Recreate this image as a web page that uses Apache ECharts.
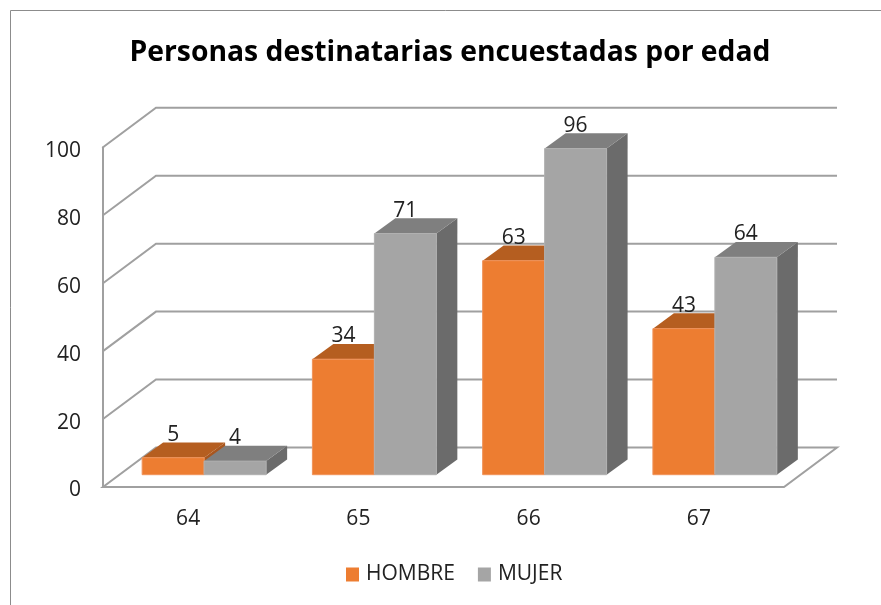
<!DOCTYPE html>
<html>
<head>
<meta charset="utf-8">
<style>
  html, body { margin: 0; padding: 0; background: #fff; }
  #chart { width: 881px; height: 605px; }
</style>
<script src="https://cdn.jsdelivr.net/npm/echarts@6/dist/echarts.min.js"></script>
</head>
<body>
<div id="chart"></div>
<script>
const titleText = 'Personas destinatarias encuestadas por edad'
const categories = ['64', '65', '66', '67']
const hombre = [5, 34, 63, 43]
const mujer = [4, 71, 96, 64]
const yTicks = [0, 20, 40, 60, 80, 100]

const fontFamily = '"Open Sans", "Noto Sans", sans-serif'
const textColor = '#222'
const gridColor = '#a0a0a0'

// fake 3d: how far the back wall sits from the front axis, and the bar box inside that
const wallDx = 53
const wallDy = -39.5
const barOffsetX = 16
const barOffsetY = -12.3
const barDepthX = 21
const barDepthY = -15.3
const barRatio = 0.364

function renderWall(params, api) {
  const cs = params.coordSys
  const y = api.coord([0, api.value(1)])[1]
  const left = cs.x
  const right = cs.x + cs.width
  const style = { stroke: gridColor, lineWidth: 2, fill: 'none' }
  if (api.value(1) === 0) {
    return {
      type: 'polygon',
      shape: { points: [[left, y], [right, y], [right + wallDx, y + wallDy], [left + wallDx, y + wallDy]] },
      style
    }
  }
  return {
    type: 'polyline',
    shape: { points: [[left, y], [left + wallDx, y + wallDy], [right + wallDx, y + wallDy]] },
    style
  }
}

function barRenderer(side, colors) {
  return function (params, api) {
    const cat = api.value(0)
    const top = api.coord([cat, api.value(1)])
    const base = api.coord([cat, 0])
    const w = api.size([1, 0])[0] * barRatio
    const x0 = top[0] + barOffsetX + (side === 0 ? -w : 0)
    const x1 = x0 + w
    const yTop = top[1] + barOffsetY
    const yBase = base[1] + barOffsetY
    const dx = barDepthX
    const dy = barDepthY
    return {
      type: 'group',
      children: [
        {
          type: 'polygon',
          shape: { points: [[x1, yTop], [x1 + dx, yTop + dy], [x1 + dx, yBase + dy], [x1, yBase]] },
          style: { fill: colors.side }
        },
        {
          type: 'polygon',
          shape: { points: [[x0, yTop], [x0 + dx, yTop + dy], [x1 + dx, yTop + dy], [x1, yTop]] },
          style: { fill: colors.top }
        },
        {
          type: 'rect',
          shape: { x: x0, y: yTop, width: w, height: yBase - yTop },
          style: { fill: colors.front, stroke: colors.edge, lineWidth: 1 }
        },
        {
          type: 'text',
          z2: 10,
          style: {
            text: String(api.value(1)),
            x: (x0 + x1) / 2,
            y: yTop + dy + 3,
            align: 'center',
            verticalAlign: 'bottom',
            fill: textColor,
            font: '21px ' + fontFamily
          }
        }
      ]
    }
  }
}

const chart = echarts.init(document.getElementById('chart'), null, { renderer: 'canvas' })
chart.setOption({
  animation: false,
  backgroundColor: '#fff',
  title: {
    text: titleText,
    left: 445,
    top: 34,
    textAlign: 'center',
    textStyle: { fontFamily, fontSize: 28.3, fontWeight: 'bold', color: '#000' }
  },
  legend: {
    data: ['HOMBRE', 'MUJER'],
    left: 341,
    top: 556,
    icon: 'rect',
    itemWidth: 13,
    itemHeight: 14,
    itemGap: 23,
    textStyle: { fontFamily, fontSize: 21, color: textColor, lineHeight: 27, padding: [0, 0, 0, 2] }
  },
  grid: { left: 103, right: 97, top: 147.3, bottom: 118 },
  xAxis: {
    type: 'category',
    data: categories,
    axisTick: { show: false },
    axisLine: { show: false },
    axisLabel: { margin: 22, fontFamily, fontSize: 21, color: textColor }
  },
  yAxis: {
    type: 'value',
    min: 0,
    max: 100,
    interval: 20,
    axisTick: { show: false },
    axisLine: { show: true, lineStyle: { color: gridColor, width: 2 } },
    splitLine: { show: false },
    axisLabel: { margin: 22, fontFamily, fontSize: 21, color: textColor, verticalAlign: 'top', lineHeight: 7 }
  },
  graphic: [
    {
      type: 'polyline',
      silent: true,
      shape: { points: [[10.5, 605], [10.5, 10.5], [881, 10.5]] },
      style: { stroke: '#8c8c8c', lineWidth: 1, fill: 'none' }
    }
  ],
  series: [
    {
      type: 'custom',
      name: 'wall',
      z: 1,
      silent: true,
      clip: false,
      renderItem: renderWall,
      encode: { x: 0, y: 1 },
      data: yTicks.map(v => [0, v])
    },
    {
      type: 'custom',
      name: 'HOMBRE',
      z: 2,
      clip: false,
      itemStyle: { color: '#ED7D31' },
      renderItem: barRenderer(0, { front: '#ED7D31', top: '#B55E20', side: '#A8561F', edge: '#F0935A' }),
      encode: { x: 0, y: 1 },
      data: hombre.map((v, i) => [i, v])
    },
    {
      type: 'custom',
      name: 'MUJER',
      z: 3,
      clip: false,
      itemStyle: { color: '#A5A5A5' },
      renderItem: barRenderer(1, { front: '#A5A5A5', top: '#7F7F7F', side: '#6B6B6B', edge: '#B0B0B0' }),
      encode: { x: 0, y: 1 },
      data: mujer.map((v, i) => [i, v])
    }
  ]
})
</script>
</body>
</html>
